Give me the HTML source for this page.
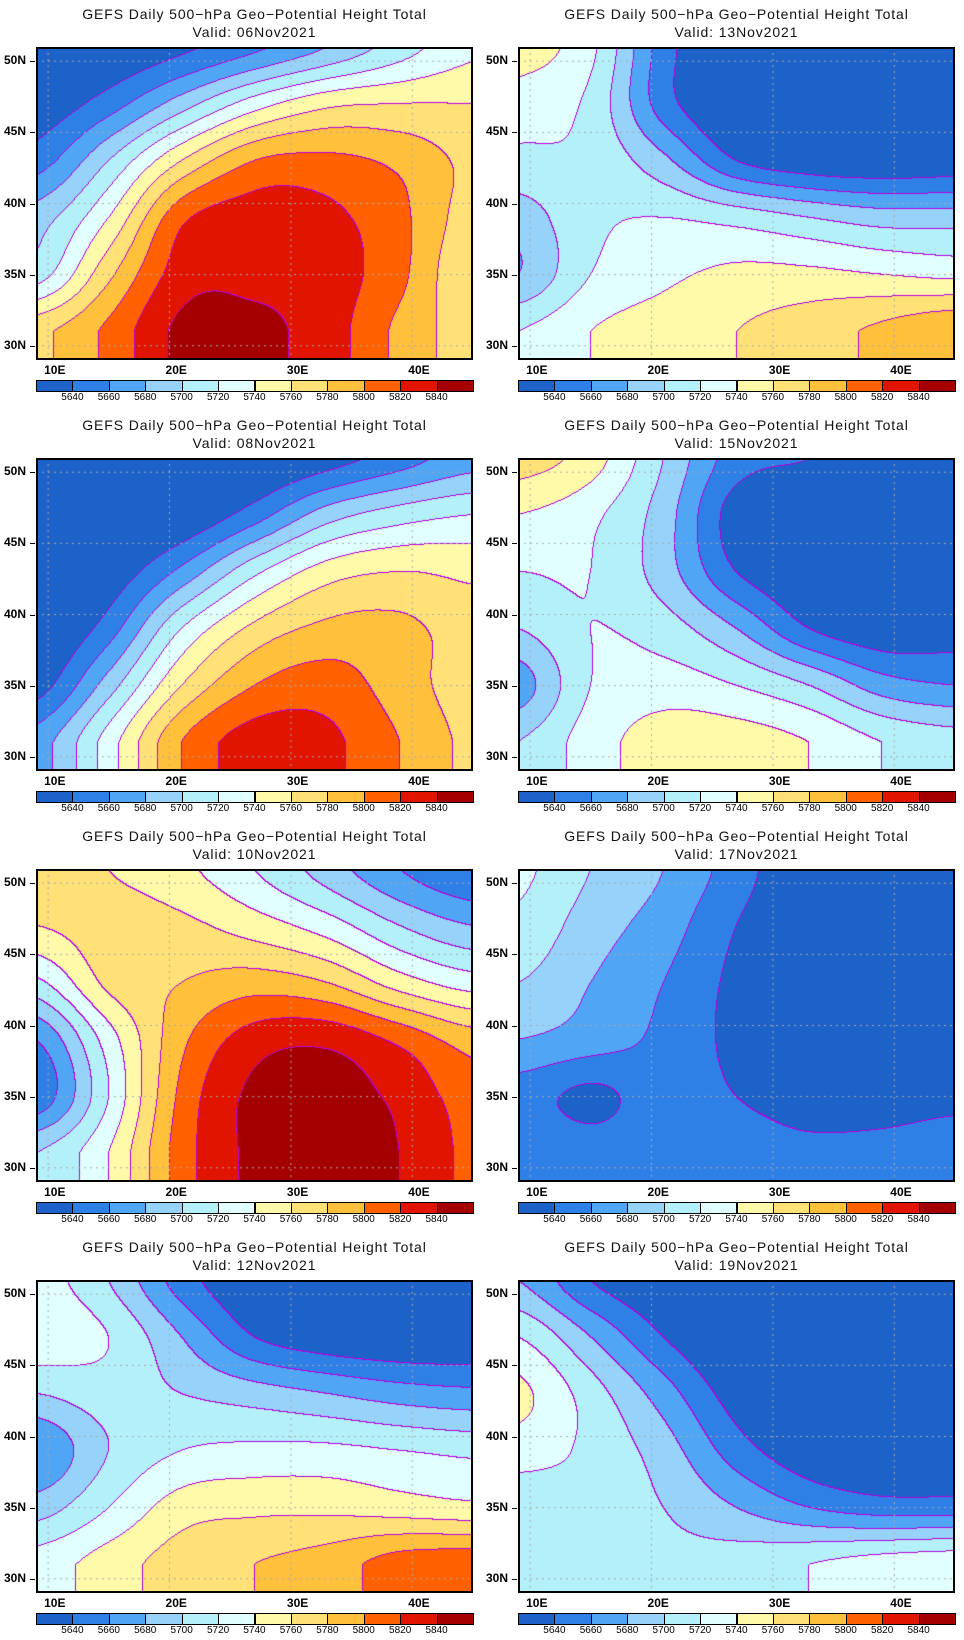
<!DOCTYPE html>
<html><head><meta charset="utf-8"><style>
body{margin:0;background:#fff;width:964px;height:1640px;position:relative;overflow:hidden;font-family:"Liberation Sans",sans-serif;}
.t{position:absolute;width:437px;text-align:center;font-size:14px;letter-spacing:0.9px;color:#111;}
canvas{position:absolute;}
.frame{position:absolute;border:2px solid #000;box-sizing:border-box;width:437px;height:313px;}
.lab{position:absolute;font-size:12px;font-weight:bold;color:#000;}
.cb{position:absolute;height:12px;border:1px solid #000;box-sizing:border-box;}
.cbl{position:absolute;font-size:10px;color:#000;width:40px;text-align:center;}
</style></head><body>
<script>
const lons=[9,15,21,27,33,39,45];
const lats=[51,47,43,39,35,31];
const dates=["06Nov2021","13Nov2021","08Nov2021","15Nov2021","10Nov2021","17Nov2021","12Nov2021","19Nov2021"];
const levels=[5640,5660,5680,5700,5720,5740,5760,5780,5800,5820,5840];
const colors=["#1c62c8","#2f80e6","#50a5f5","#96d2fa","#b4f0fa","#e1ffff","#fffaaa","#ffe178","#ffc03c","#ff6000","#e11400","#a50000"];
const field06=[[5610,5620,5635,5655,5680,5710,5735],[5625,5650,5690,5730,5755,5760,5760],[5650,5700,5760,5800,5805,5795,5775],[5690,5740,5815,5830,5825,5805,5770],[5710,5775,5830,5835,5830,5805,5760],[5775,5805,5845,5845,5830,5795,5770]];
const field13=[[5750,5725,5650,5610,5610,5610,5610],[5730,5715,5650,5615,5612,5612,5615],[5715,5715,5685,5640,5625,5622,5625],[5690,5715,5720,5712,5700,5690,5690],[5680,5720,5735,5745,5745,5740,5735],[5720,5740,5750,5760,5770,5785,5800]];
const field08=[[5600,5600,5605,5615,5630,5650,5670],[5605,5610,5620,5650,5690,5710,5720],[5610,5625,5665,5715,5750,5760,5755],[5615,5650,5720,5765,5785,5785,5770],[5630,5690,5760,5800,5810,5790,5770],[5670,5730,5800,5830,5825,5800,5775]];
const field15=[[5770,5750,5700,5650,5640,5630,5630],[5740,5725,5690,5630,5620,5620,5625],[5720,5720,5690,5640,5620,5620,5625],[5700,5720,5710,5680,5640,5625,5630],[5670,5720,5730,5720,5700,5670,5660],[5700,5730,5750,5750,5740,5720,5710]];
const field10=[[5770,5760,5745,5720,5690,5660,5640],[5760,5770,5765,5750,5730,5700,5680],[5715,5765,5780,5790,5780,5750,5730],[5660,5730,5795,5830,5835,5815,5790],[5645,5720,5805,5845,5850,5835,5810],[5700,5740,5810,5845,5850,5840,5815]];
const field17=[[5725,5700,5680,5650,5620,5610,5610],[5715,5690,5670,5640,5620,5610,5610],[5700,5680,5660,5635,5620,5615,5615],[5680,5670,5655,5635,5625,5620,5620],[5650,5635,5650,5640,5630,5625,5630],[5660,5650,5655,5650,5645,5650,5660]];
const field12=[[5730,5700,5650,5620,5610,5610,5610],[5735,5720,5680,5640,5625,5620,5620],[5700,5710,5700,5690,5680,5670,5665],[5660,5700,5720,5725,5725,5720,5715],[5690,5720,5750,5755,5755,5750,5745],[5730,5750,5770,5780,5790,5810,5815]];
const field19=[[5680,5640,5620,5610,5610,5610,5610],[5720,5680,5640,5615,5610,5610,5610],[5745,5710,5670,5630,5615,5610,5610],[5730,5715,5690,5650,5625,5615,5615],[5705,5710,5700,5680,5660,5650,5650],[5700,5710,5705,5710,5720,5730,5735]];
const fields=[field06,field13,field08,field15,field10,field17,field12,field19];

const W=437,H=313,LON0=9,LON1=45,LAT0=29,LAT1=51;
function xOf(lon){return (lon-LON0)/(LON1-LON0)*W;}
function yOf(lat){return (LAT1-lat)/(LAT1-LAT0)*H;}
function cr(p0,p1,p2,p3,t){return 0.5*((2*p1)+(-p0+p2)*t+(2*p0-5*p1+4*p2-p3)*t*t+(-p0+3*p1-3*p2+p3)*t*t*t);}
function sample(f,lon,lat){
  const nx=lons.length,ny=lats.length;
  let u=(lon-lons[0])/(lons[1]-lons[0]);let v=(lat-lats[0])/(lats[1]-lats[0]);
  u=Math.max(0,Math.min(nx-1-1e-6,u));v=Math.max(0,Math.min(ny-1-1e-6,v));
  const i=Math.floor(u),j=Math.floor(v),tx=u-i,ty=v-j;
  const g=(jj,ii)=>f[Math.max(0,Math.min(ny-1,jj))][Math.max(0,Math.min(nx-1,ii))];
  const rows=[];
  for(let k=-1;k<=2;k++)rows.push(cr(g(j+k,i-1),g(j+k,i),g(j+k,i+1),g(j+k,i+2),tx));
  return cr(rows[0],rows[1],rows[2],rows[3],ty);
}
function lvl(v){let k=0;for(const L of levels){if(v>=L)k++;}return k;}
function hex(c){return [parseInt(c.slice(1,3),16),parseInt(c.slice(3,5),16),parseInt(c.slice(5,7),16)];}
const rgb=colors.map(hex);

for(let p=0;p<8;p++){
  const col=p%2,row=Math.floor(p/2);
  const mx=col?518:36,my=47+row*411;
  const f=fields[p];
  const t=document.createElement('div');t.className='t';
  
  
  t.style.left=mx+'px';t.style.top=(my-42)+'px';
  t.innerHTML='GEFS Daily 500&minus;hPa Geo&minus;Potential Height Total<br>Valid: '+dates[p];
  t.style.lineHeight='18px';
  document.body.appendChild(t);
  const cv=document.createElement('canvas');cv.width=W;cv.height=H;
  
  
  cv.style.left=mx+'px';cv.style.top=my+'px';
  document.body.appendChild(cv);
  const ctx=cv.getContext('2d');const img=ctx.createImageData(W,H);
  const L=new Int8Array(W*H);
  for(let y=0;y<H;y++)for(let x=0;x<W;x++){
    const lon=LON0+(x+0.5)/W*(LON1-LON0),lat=LAT1-(y+0.5)/H*(LAT1-LAT0);
    L[y*W+x]=lvl(sample(f,lon,lat));
  }
  for(let y=0;y<H;y++)for(let x=0;x<W;x++){
    const k=L[y*W+x];let c=rgb[k];
    const r=x<W-1?L[y*W+x+1]:k,d=y<H-1?L[(y+1)*W+x]:k;
    if(r!==k||d!==k)c=[180,0,220];
    const o=(y*W+x)*4;img.data[o]=c[0];img.data[o+1]=c[1];img.data[o+2]=c[2];img.data[o+3]=255;
  }
  ctx.putImageData(img,0,0);
  ctx.strokeStyle='#aaa';ctx.setLineDash([2,4]);ctx.lineWidth=1;
  [10,20,30,40].forEach(lo=>{ctx.beginPath();ctx.moveTo(xOf(lo),0);ctx.lineTo(xOf(lo),H);ctx.stroke();});
  [30,35,40,45,50].forEach(la=>{ctx.beginPath();ctx.moveTo(0,yOf(la));ctx.lineTo(W,yOf(la));ctx.stroke();});
  const fr=document.createElement('div');fr.className='frame';
  
  
  fr.style.left=mx+'px';fr.style.top=my+'px';document.body.appendChild(fr);
  [10,20,30,40].forEach(lo=>{
    const e=document.createElement('div');e.className='lab';
    
    
    e.textContent=lo+'E';e.style.left=(mx+xOf(lo)-4)+'px';e.style.top=(my+H+3)+'px';
    document.body.appendChild(e);
  });
  [30,35,40,45,50].forEach(la=>{
    const e=document.createElement('div');e.className='lab';
    
    
    e.textContent=la+'N';e.style.left=(mx-40)+'px';e.style.width='30px';e.style.textAlign='right';e.style.top=(my+yOf(la)-8)+'px';
    document.body.appendChild(e);
    const tk=document.createElement('div');tk.style.cssText='position:absolute;height:1px;width:5px;background:#000;left:'+(mx-6)+'px;top:'+(my+yOf(la))+'px';
    document.body.appendChild(tk);
  });
  const segW=W/colors.length;
  colors.forEach((c,i)=>{
    const s=document.createElement('div');s.className='cb';
    
    
    s.style.left=(mx+i*segW)+'px';s.style.width=(segW+1)+'px';s.style.top=(my+H+20)+'px';s.style.background=c;
    document.body.appendChild(s);
  });
  levels.forEach((v,i)=>{
    const e=document.createElement('div');e.className='cbl';
    
    
    e.textContent=v;e.style.left=(mx+(i+1)*segW-20)+'px';e.style.top=(my+H+32)+'px';
    document.body.appendChild(e);
  });
}
</script>
</body></html>
